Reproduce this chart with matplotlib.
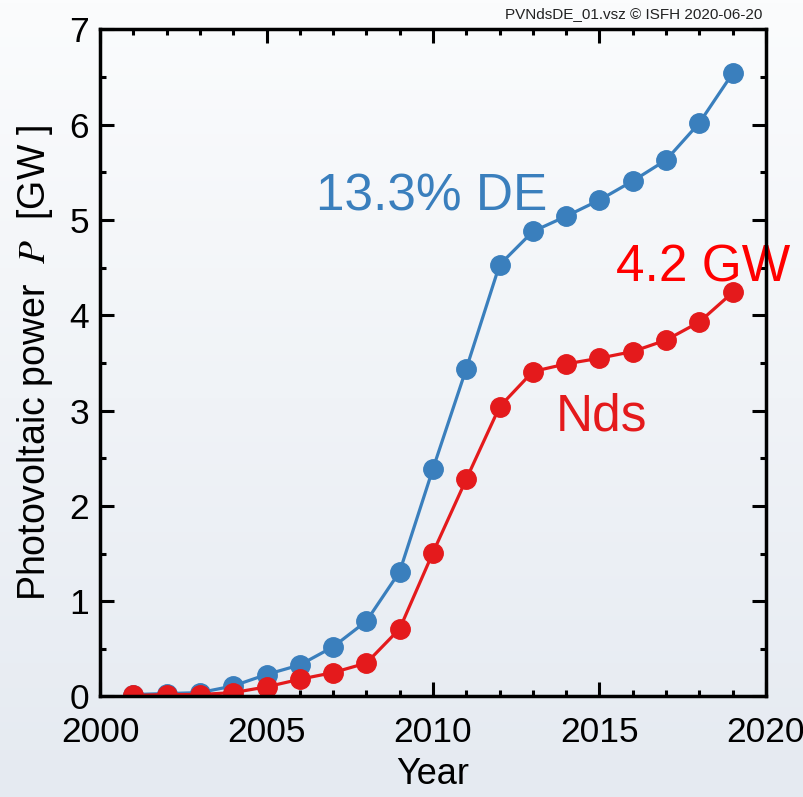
import numpy as np
import matplotlib
matplotlib.use("Agg")
import matplotlib.pyplot as plt
from matplotlib.ticker import MultipleLocator
from matplotlib.colors import LinearSegmentedColormap

plt.rcParams['font.family'] = ['Liberation Sans', 'DejaVu Sans']
plt.rcParams['mathtext.fontset'] = 'stix'

years = [2001, 2002, 2003, 2004, 2005, 2006, 2007, 2008, 2009, 2010,
         2011, 2012, 2013, 2014, 2015, 2016, 2017, 2018, 2019]
de_scaled = [0.02, 0.03, 0.04, 0.11, 0.23, 0.33, 0.52, 0.79, 1.31, 2.39,
             3.44, 4.53, 4.88, 5.04, 5.21, 5.41, 5.63, 6.02, 6.54]
nds = [0.01, 0.02, 0.02, 0.04, 0.10, 0.18, 0.25, 0.35, 0.71, 1.51,
       2.28, 3.04, 3.41, 3.49, 3.55, 3.62, 3.74, 3.93, 4.24]

blue = '#3a7fbd'
red = '#e41a1c'

fig = plt.figure(figsize=(8.04, 7.97), dpi=100)

# background gradient
bg = fig.add_axes([0, 0, 1, 1], zorder=-10)
grad = np.linspace(0, 1, 256).reshape(-1, 1)
cmap = LinearSegmentedColormap.from_list('bg', ['#fbfcfd', '#e5eaf1'])
bg.imshow(grad, aspect='auto', cmap=cmap, extent=[0, 1, 0, 1], origin='upper')
bg.set_axis_off()

ax = fig.add_axes([0.1244, 0.1262, 0.9527 - 0.1244, 0.9630 - 0.1262])
ax.set_facecolor('none')

ax.plot(years, de_scaled, '-o', color=blue, lw=2.3, ms=14, zorder=3)
ax.plot(years, nds, '-o', color=red, lw=2.3, ms=14, zorder=3)

ax.set_xlim(2000, 2020)
ax.set_ylim(0, 7)
ax.xaxis.set_major_locator(MultipleLocator(5))
ax.xaxis.set_minor_locator(MultipleLocator(1))
ax.yaxis.set_major_locator(MultipleLocator(1))
ax.yaxis.set_minor_locator(MultipleLocator(0.5))

for s in ax.spines.values():
    s.set_linewidth(2.5)
    s.set_zorder(5)

ax.tick_params(which='both', direction='in', top=True, right=True, width=2.2)
ax.tick_params(which='major', length=10, labelsize=25.5)
ax.tick_params(which='minor', length=4.5)
ax.tick_params(axis='x', which='major', pad=14)
ax.tick_params(axis='y', which='major', pad=8)

ax.set_xlabel('Year', fontsize=26, labelpad=6)
ax.set_ylabel(r'Photovoltaic power  $P$  [GW ]', fontsize=27, labelpad=10)

ax.text(2009.95, 5.24, '13.3% DE', color=blue, fontsize=37, ha='center', va='center')
ax.text(2015.05, 2.93, 'Nds', color=red, fontsize=37, ha='center', va='center')
ax.text(2018.1, 4.50, '4.2 GW', color='#ff0000', fontsize=37, ha='center', va='center',
        clip_on=False)

fig.text(0.948, 0.982, 'PVNdsDE_01.vsz \u00a9 ISFH 2020-06-20', fontsize=11,
         ha='right', va='center', color='#222222')

fig.savefig('out.png', dpi=100)
